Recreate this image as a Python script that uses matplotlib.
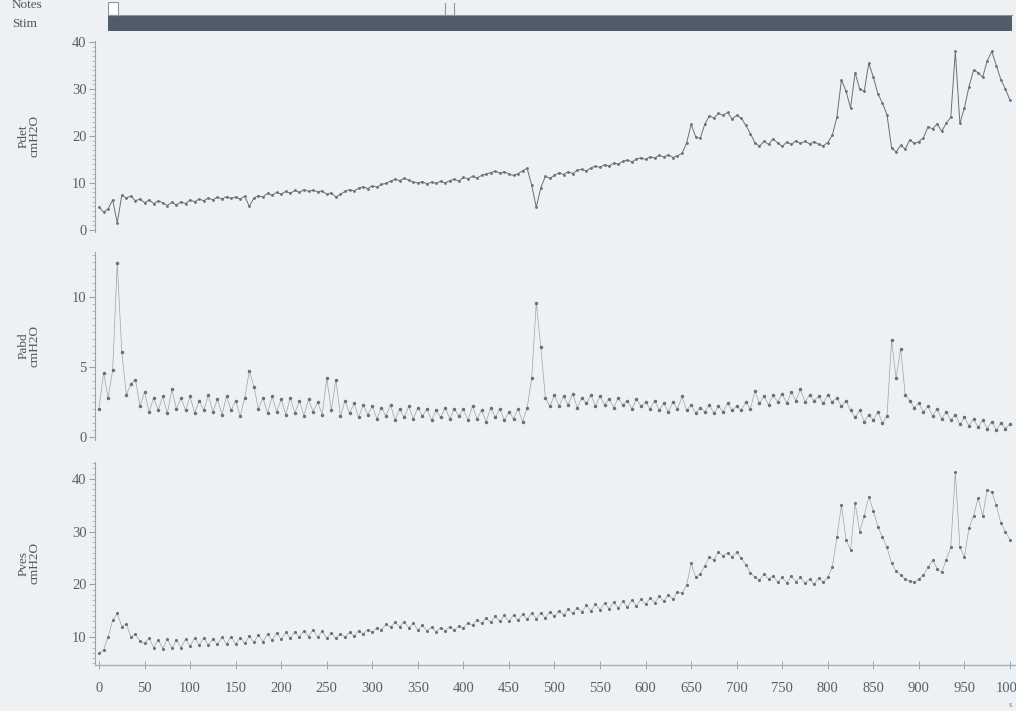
import numpy as np
import matplotlib
matplotlib.use('Agg')
import matplotlib.pyplot as plt
from matplotlib.ticker import MultipleLocator

# time axis in seconds, one reading every 5 s
t = np.arange(0, 1001, 5)

pdet = [4.9, 3.8, 4.5, 6.4, 1.5, 7.4, 6.8, 7.2, 6.2, 6.6, 5.8, 6.4, 5.6, 6.2, 5.8, 5.2, 5.9, 5.3, 6.0, 5.6,
        6.4, 6.0, 6.6, 6.2, 6.8, 6.4, 7.0, 6.6, 7.1, 6.7, 7.0, 6.6, 7.2, 5.0, 6.8, 7.3, 7.0, 7.8, 7.4, 8.0,
        7.6, 8.2, 7.8, 8.4, 8.0, 8.6, 8.2, 8.5, 8.1, 8.3, 7.6, 7.9, 7.0, 7.6, 8.2, 8.6, 8.3, 8.9, 9.2, 8.8,
        9.4, 9.1, 9.7, 9.9, 10.4, 10.8, 10.5, 11.0, 10.6, 10.2, 10.0, 10.3, 9.8, 10.2, 9.9, 10.4, 10.0, 10.5, 10.8, 10.4,
        11.2, 10.9, 11.4, 11.1, 11.6, 11.9, 12.2, 12.5, 12.1, 12.4, 11.9, 11.6, 12.0, 12.6, 13.1, 9.5, 4.8, 9.0, 11.4, 11.0,
        11.6, 12.2, 11.8, 12.4, 12.0, 12.7, 12.9, 12.6, 13.2, 13.6, 13.3, 13.9, 13.6, 14.2, 14.0, 14.6, 14.9, 14.5, 15.1, 15.4,
        15.0, 15.6, 15.3, 15.9, 15.5, 16.0, 15.4, 15.8, 16.3, 18.5, 22.5, 19.8, 19.5, 22.5, 24.3, 23.8, 24.8, 24.4, 25.0, 23.6,
        24.4, 23.8, 22.3, 20.5, 18.6, 17.8, 18.9, 18.2, 19.4, 18.5, 17.8, 18.7, 18.2, 19.0, 18.4, 18.9, 18.3, 18.8, 18.2, 17.9,
        18.6, 20.2, 24.0, 32.0, 29.5, 26.0, 33.5, 30.0, 29.5, 35.5, 32.5, 29.0, 27.0, 24.5, 17.5, 16.6, 18.0, 17.2, 19.2, 18.4,
        18.8, 19.6, 22.0, 21.5, 22.6, 21.0, 22.7, 24.0, 38.0, 22.7, 26.0, 30.5, 34.0, 33.5, 32.5, 36.0, 38.0, 35.0, 32.0, 30.0,
        27.6]

pabd = [2.0, 4.6, 2.8, 4.8, 12.4, 6.1, 3.0, 3.8, 4.1, 2.2, 3.2, 1.8, 2.8, 1.9, 2.9, 1.7, 3.4, 2.0, 2.8, 1.9,
        2.9, 1.7, 2.6, 1.9, 3.0, 1.8, 2.7, 1.6, 2.9, 1.9, 2.6, 1.5, 2.8, 4.7, 3.6, 2.0, 2.8, 1.7, 2.9, 1.8,
        2.7, 1.6, 2.8, 1.7, 2.6, 1.5, 2.7, 1.8, 2.5, 1.6, 4.2, 1.9, 4.1, 1.5, 2.6, 1.7, 2.4, 1.4, 2.3, 1.6,
        2.2, 1.3, 2.1, 1.5, 2.3, 1.2, 2.0, 1.4, 2.2, 1.3, 2.1, 1.5, 2.0, 1.2, 1.9, 1.4, 2.1, 1.3, 2.0, 1.5,
        2.0, 1.2, 2.2, 1.3, 1.9, 1.1, 2.1, 1.4, 2.0, 1.2, 1.8, 1.3, 2.0, 1.1, 2.1, 4.2, 9.6, 6.4, 2.8, 2.2,
        3.0, 2.2, 2.9, 2.3, 3.1, 2.1, 2.8, 2.4, 3.0, 2.2, 2.9, 2.3, 2.7, 2.1, 2.8, 2.3, 2.6, 2.0, 2.7, 2.2,
        2.5, 2.0, 2.6, 1.9, 2.4, 1.8, 2.5, 2.0, 2.9, 1.9, 2.3, 1.7, 2.1, 1.8, 2.3, 1.7, 2.2, 1.8, 2.4, 1.9,
        2.2, 1.9, 2.5, 2.0, 3.3, 2.4, 2.9, 2.3, 3.0, 2.5, 3.1, 2.4, 3.2, 2.6, 3.4, 2.5, 3.0, 2.6, 2.9, 2.4,
        3.0, 2.5, 2.8, 2.2, 2.6, 1.9, 1.4, 1.9, 1.1, 1.6, 1.2, 1.8, 1.0, 1.5, 6.9, 4.2, 6.3, 3.0, 2.6, 2.1,
        2.4, 1.8, 2.2, 1.5, 2.0, 1.3, 1.8, 1.2, 1.6, 0.9, 1.4, 0.8, 1.3, 0.7, 1.2, 0.6, 1.1, 0.5, 1.0, 0.6,
        0.9]

pves = [7.0, 7.5, 10.0, 13.2, 14.5, 12.0, 12.5, 10.0, 10.6, 9.2, 8.8, 9.8, 8.0, 9.5, 7.8, 9.6, 7.9, 9.4, 8.0, 9.6,
        8.3, 9.8, 8.5, 9.9, 8.4, 9.7, 8.6, 10.0, 8.7, 10.1, 8.6, 9.9, 8.8, 10.2, 9.0, 10.4, 9.1, 10.6, 9.4, 10.8,
        9.6, 10.9, 9.8, 11.0, 10.0, 11.2, 10.1, 11.4, 10.0, 11.1, 9.8, 10.8, 9.8, 10.6, 10.0, 10.9, 10.2, 11.2, 10.6, 11.4,
        10.9, 11.8, 11.4, 12.4, 11.9, 12.8, 12.0, 12.9, 11.8, 12.6, 11.4, 12.2, 11.2, 11.9, 11.0, 11.8, 11.2, 12.0, 11.3, 12.1,
        11.7, 12.7, 12.2, 13.3, 12.6, 13.6, 12.8, 13.9, 13.0, 14.1, 13.0, 14.2, 13.2, 14.3, 13.4, 14.5, 13.5, 14.6, 13.6, 14.8,
        13.9, 15.0, 14.2, 15.3, 14.5, 15.6, 14.8, 16.0, 15.0, 16.2, 15.2, 16.4, 15.4, 16.6, 15.5, 16.8, 15.7, 17.0, 15.9, 17.2,
        16.2, 17.4, 16.5, 17.7, 16.8, 18.0, 17.2, 18.6, 18.3, 19.8, 24.0, 21.3, 22.0, 23.5, 25.2, 24.6, 26.1, 25.4, 26.0, 25.2,
        26.1, 25.0, 23.7, 22.2, 21.3, 20.8, 22.0, 21.0, 21.6, 20.4, 21.3, 20.3, 21.5, 20.5, 21.3, 20.2, 21.0, 20.0, 21.2, 20.4,
        21.3, 23.3, 29.0, 35.0, 28.4, 26.5, 35.4, 30.0, 33.0, 36.6, 34.0, 30.9, 29.0, 27.0, 24.0, 22.5, 21.8, 21.0, 20.6, 20.4,
        21.0, 21.8, 23.2, 24.6, 23.0, 22.3, 24.6, 27.0, 41.3, 27.0, 25.2, 30.7, 33.0, 36.4, 33.0, 37.9, 37.5, 35.0, 31.6, 30.0,
        28.4]

stim_start, stim_end = 10, 1002
note_marks = [380, 390]

bg = '#eef1f4'
ink = '#66717c'
axis_col = '#9aa4ae'
serif = 'Liberation Serif'

fig = plt.figure(figsize=(10.16, 7.11), dpi=100, facecolor=bg)
W, H = 1016, 711
xl = (-4.4, 1006.6)


def px_axes(top, bottom):
    return fig.add_axes([95 / W, 1 - bottom / H, (W - 95) / W, (bottom - top) / H])


def style(ax, ylim, major, minor, label):
    ax.set_facecolor(bg)
    ax.set_xlim(*xl)
    ax.set_ylim(*ylim)
    for s in ['top', 'right', 'bottom']:
        ax.spines[s].set_visible(False)
    ax.spines['left'].set_color(axis_col)
    ax.spines['left'].set_linewidth(0.8)
    ax.yaxis.set_major_locator(MultipleLocator(major))
    ax.yaxis.set_minor_locator(MultipleLocator(minor))
    ax.tick_params(axis='y', which='major', length=4, width=0.8, color=axis_col,
                   labelsize=10.5, labelcolor='#56606a', pad=2)
    ax.tick_params(axis='y', which='minor', length=2, width=0.5, color=axis_col)
    ax.tick_params(axis='x', bottom=False, labelbottom=False)
    for lb in ax.get_yticklabels():
        lb.set_fontfamily(serif)
    ax.text(-0.072, 0.5, label, transform=ax.transAxes, rotation=90, ha='center', va='center',
            fontsize=9.5, family=serif, color='#4d5660', linespacing=0.9)


# top strip: notes and stim
strip = fig.add_axes([95 / W, 1 - 36 / H, (W - 95) / W, 36 / H])
strip.set_xlim(*xl)
strip.set_ylim(36, 0)
strip.axis('off')
strip.fill_between([stim_start, stim_end], 16, 31, color='#515c68', lw=0)
strip.plot([stim_start, stim_end], [15, 15], color='#8c96a0', lw=0.8)
strip.fill_between([stim_start, stim_start + 11], 2, 15, facecolor='white', edgecolor='#8c96a0', lw=0.8)
for m in note_marks:
    strip.plot([m, m], [3, 15], color='#8c96a0', lw=0.8)
fig.text(12 / W, 1 - 5 / H, 'Notes', fontsize=9.5, family=serif, color='#4d5660', va='center')
fig.text(12 / W, 1 - 24 / H, 'Stim', fontsize=9.5, family=serif, color='#4d5660', va='center')

ax1 = px_axes(40.6, 232.3)
style(ax1, (-0.5, 40.3), 10, 1, 'Pdet\ncmH2O')
ax1.plot(t, pdet, color=ink, lw=0.7, marker='.', ms=2, mec=ink)

ax2 = px_axes(252.2, 439.8)
style(ax2, (-0.2, 13.2), 5, 0.5, 'Pabd\ncmH2O')
ax2.plot(t, pabd, color='#9aa3ac', lw=0.5, marker='.', ms=3, mec=ink, mfc=ink)

ax3 = px_axes(462, 665)
style(ax3, (4.7, 43.2), 10, 1, 'Pves\ncmH2O')
ax3.plot(t, pves, color='#9aa3ac', lw=0.5, marker='.', ms=2.5, mec=ink, mfc=ink)
ax3.spines['bottom'].set_visible(True)
ax3.spines['bottom'].set_color('#aab3bc')
ax3.spines['bottom'].set_linewidth(1.0)
ax3.xaxis.set_major_locator(MultipleLocator(50))
ax3.tick_params(axis='x', bottom=True, labelbottom=True, direction='inout', length=6, width=0.7,
                color=axis_col, labelsize=10.5, labelcolor='#56606a', pad=9)
for lb in ax3.get_xticklabels():
    lb.set_fontfamily(serif)
fig.text(1010 / W, 1 - 705 / H, 's', fontsize=6, family=serif, color='#6b7580', ha='center', va='center')

fig.savefig('out.png', dpi=100, facecolor=bg)
